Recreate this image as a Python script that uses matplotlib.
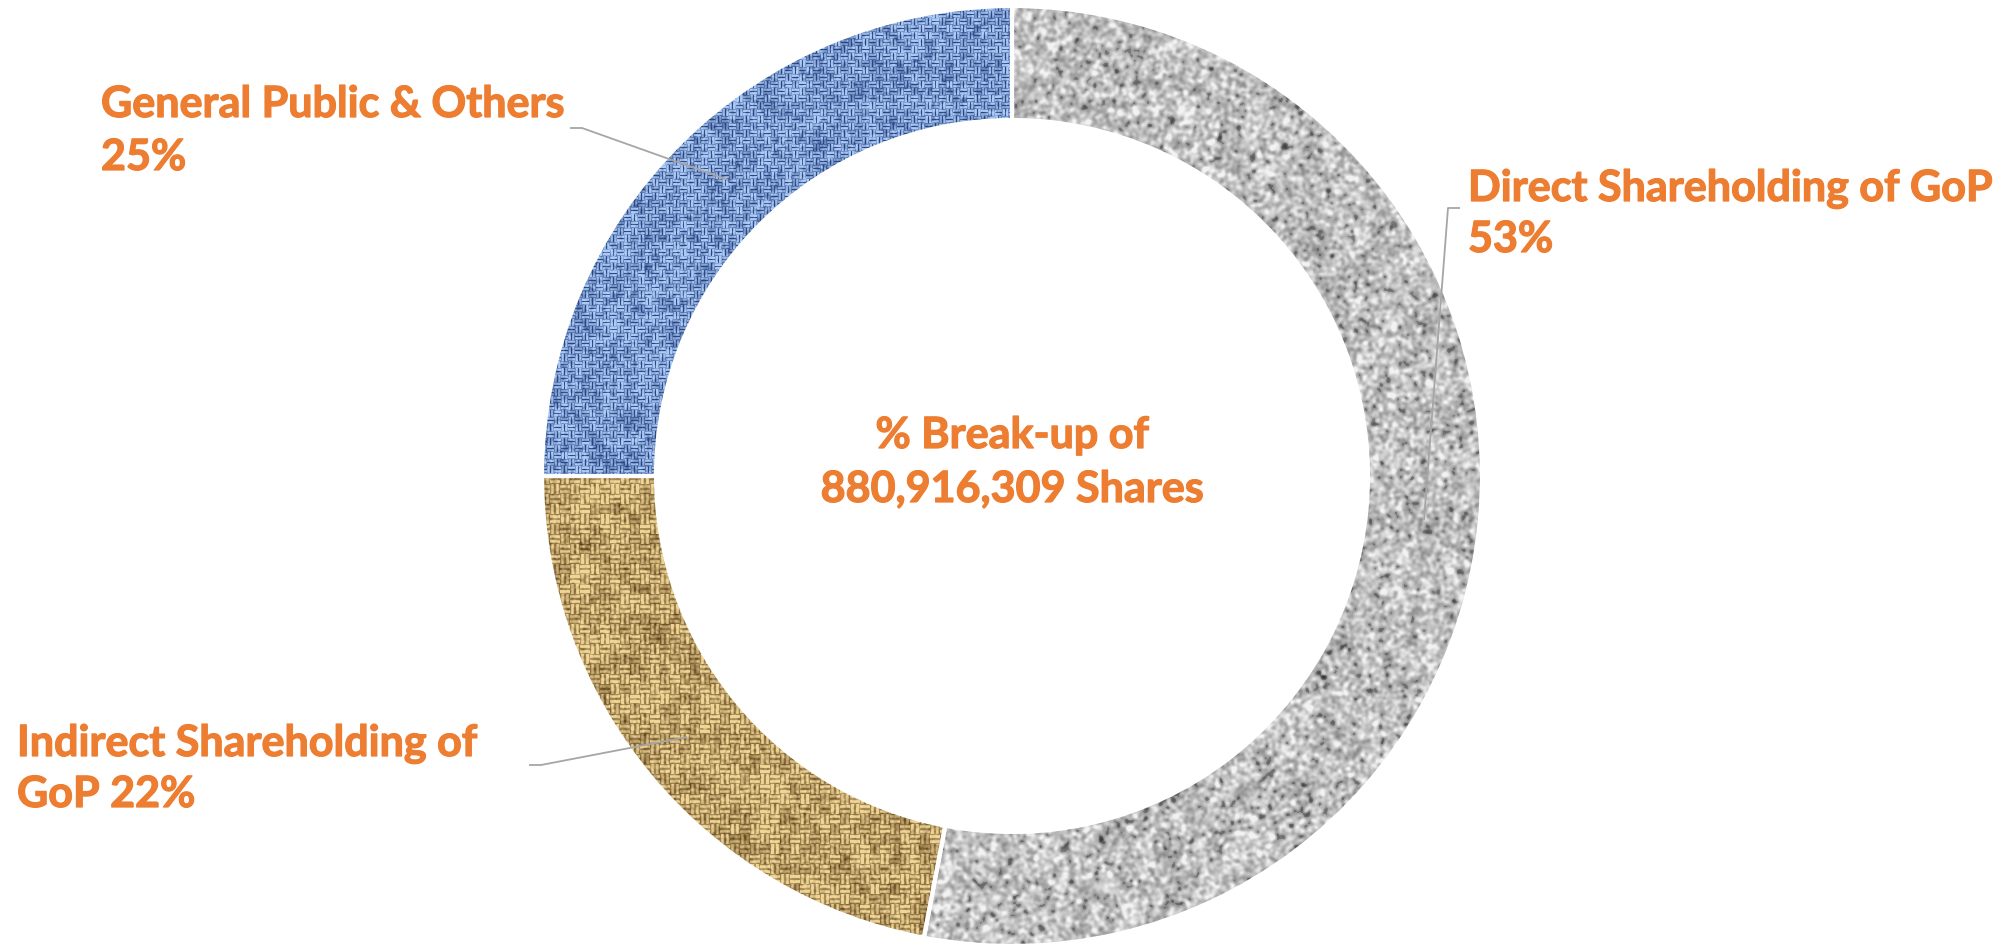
import numpy as np
import matplotlib
matplotlib.use("Agg")
import matplotlib.pyplot as plt
import matplotlib.patheffects as pe

# ---- data ----
categories = ["Direct Shareholding of GoP", "Indirect Shareholding of GoP", "General Public & Others"]
shares = [53, 22, 25]
label_lines = [
    ["Direct Shareholding of GoP", "53%"],
    ["Indirect Shareholding of", "GoP 22%"],
    ["General Public & Others", "25%"],
]
center_lines = ["% Break-up of", "880,916,309 Shares"]

# ---- layout (pixel units, y measured from top) ----
W, H = 2009, 947
CX, CY = 1012, 476
R_OUT, RING = 470, 114
ORANGE = "#ED7D31"
LEADER = "#A6A6A6"
FONT = "Lato"


def Y(y):
    return H - y


fig = plt.figure(figsize=(W / 100, H / 100), dpi=100)
ax = fig.add_axes([0, 0, 1, 1])

wedges, _ = ax.pie(
    shares, radius=R_OUT, center=(CX, Y(CY)), startangle=90, counterclock=False,
    colors=["#BDBDBD", "#C9A66B", "#6488C8"],
    wedgeprops=dict(width=RING, edgecolor="white", linewidth=3),
)
ax.set_xlim(0, W)
ax.set_ylim(0, H)
ax.set_aspect("equal")
ax.axis("off")

# ---- surface textures for the ring segments ----
rng = np.random.default_rng(5)
N = 2 * R_OUT + 4
yy, xx = np.mgrid[0:N, 0:N]


def blur(a, sigma):
    fy = np.fft.fftfreq(a.shape[0])[:, None]
    fx = np.fft.fftfreq(a.shape[1])[None, :]
    g = np.exp(-2 * (np.pi * sigma) ** 2 * (fx ** 2 + fy ** 2))
    return np.real(np.fft.ifft2(np.fft.fft2(a) * g))


def norm(a):
    return (a - a.mean()) / a.std()


def granite():
    n1 = norm(blur(rng.normal(size=(N, N)), 1.7))
    n2 = norm(blur(rng.normal(size=(N, N)), 4.0))
    v = 0.75 + 0.095 * n1 + 0.025 * n2
    v = np.where(n1 < -1.8, v - 0.10, v)
    v = np.clip(v, 0.2, 0.95)
    return np.dstack([v, v, v])


def weave(period, threads, dark, light, jitter, gamma):
    ci, cj = xx // period, yy // period
    horiz = (ci + cj) % 2 == 0
    fx = (xx % period + 0.5) / period
    fy = (yy % period + 0.5) / period
    prof = np.where(horiz, np.abs(np.sin(np.pi * threads * fy)),
                    np.abs(np.sin(np.pi * threads * fx))) ** gamma
    cell = rng.normal(size=(N // period + 2, N // period + 2))
    t = prof * (0.88 + 0.12 * cell[cj, ci])
    t = t + jitter * norm(blur(rng.normal(size=(N, N)), 1.0)) \
        + 0.05 * norm(blur(rng.normal(size=(N, N)), 6.0))
    t = np.clip(t, 0, 1)[..., None]
    dark = np.array(dark) / 255.0
    light = np.array(light) / 255.0
    img = dark + (light - dark) * t
    return np.clip(img, 0, 1)


textures = [
    granite(),
    weave(10, 2, (98, 68, 28), (240, 214, 150), 0.10, 0.7),
    weave(7, 2, (40, 70, 132), (172, 202, 245), 0.13, 0.7),
]

extent = (CX - N / 2, CX + N / 2, Y(CY) - N / 2, Y(CY) + N / 2)
for w, tex in zip(wedges, textures):
    im = ax.imshow(tex, extent=extent, zorder=2, interpolation="bilinear")
    im.set_clip_path(w)
    w.set_facecolor((1, 1, 1, 0))
    w.set_zorder(3)

# ---- leader lines ----
leaders = [
    [(1460, 208), (1448, 208), (1424, 520)],
    [(529, 765), (541, 765), (687, 737)],
    [(570, 128), (582, 128), (728, 180)],
]
for pts in leaders:
    xs = [p[0] for p in pts]
    ys = [Y(p[1]) for p in pts]
    ax.plot(xs, ys, color=LEADER, lw=1.3, zorder=4, solid_capstyle="butt")

# ---- labels ----
txt = dict(color=ORANGE, fontsize=31, fontweight="bold", family=FONT, zorder=5,
           path_effects=[pe.withStroke(linewidth=0.9, foreground=ORANGE)])
label_pos = [(1468, [201, 252]), (17, [756, 807]), (101, [117, 170])]
for lines, (x0, bases) in zip(label_lines, label_pos):
    for line, yb in zip(lines, bases):
        ax.text(x0, Y(yb), line, ha="left", va="baseline", **txt)

for line, yb in zip(center_lines, [448, 502]):
    ax.text(CX, Y(yb), line, ha="center", va="baseline", **txt)

fig.savefig("out.png", dpi=100, facecolor="white")
